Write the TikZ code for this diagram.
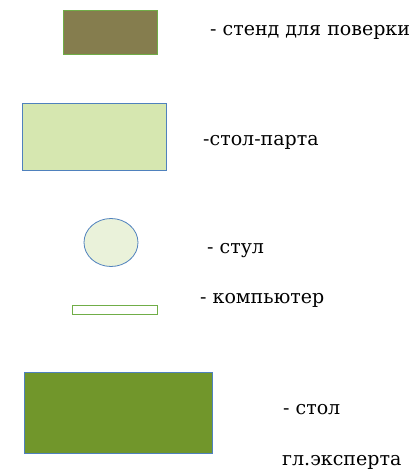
\documentclass[tikz,border=0pt]{standalone}
\usepackage{fontspec}
\setmainfont{DejaVu Serif}
\usetikzlibrary{positioning,shapes.geometric}

\definecolor{standfill}{RGB}{133,125,78}
\definecolor{standline}{RGB}{112,173,71}
\definecolor{deskfill}{RGB}{214,231,176}
\definecolor{bluline}{RGB}{79,129,189}
\definecolor{chairfill}{RGB}{234,242,218}
\definecolor{expfill}{RGB}{113,150,43}

\begin{document}
\begin{tikzpicture}[x=1pt,y=-1pt,
		item/.style={rectangle,draw,thick,inner sep=0pt,outer sep=0pt},
		chair/.style={ellipse,draw,thick,fill=chairfill,draw=bluline,inner sep=0pt},
		lbl/.style={anchor=west,inner sep=0pt,font=\fontsize{19}{21}\selectfont}]
   \useasboundingbox (0,0) rectangle (414,470);
   % legend items
   \node [item,fill=standfill,draw=standline,minimum width=94pt,minimum height=44pt] (stand) at (110,32) {};
   \node [item,fill=deskfill,draw=bluline,minimum width=144pt,minimum height=67pt] (desk) at (94,136.5) {};
   \node [chair,minimum width=54pt,minimum height=48pt] (chair) at (111,242.5) {};
   \node [item,fill=white,draw=standline,minimum width=85pt,minimum height=9pt] (pc) at (114.5,309.5) {};
   \node [item,fill=expfill,draw=bluline,minimum width=188pt,minimum height=81pt] (exp) at (118,412.5) {};
   % labels
   \node [lbl] (standl) at (210,32) {- стенд для поверки};
   \node [lbl] (deskl)  at (203,142) {-стол-парта};
   \node [lbl] (chairl) at (207,251) {- стул};
   \node [lbl] (pcl)    at (200,300) {- компьютер};
   \node [lbl] (expl1)  at (283,410) {- стол};
   \node [lbl] (expl2)  at (282,462) {гл.эксперта};
\end{tikzpicture}
\end{document}
